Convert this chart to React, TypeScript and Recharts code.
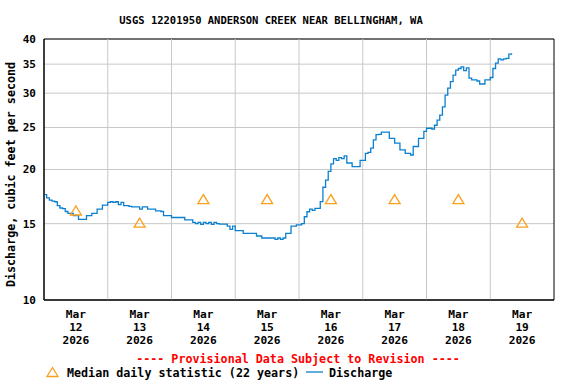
import {
  CartesianGrid,
  ComposedChart,
  Line,
  ReferenceArea,
  ReferenceLine,
  Scatter,
  XAxis,
  YAxis,
} from "recharts";

// hourly discharge (cfs), starting Mar 12 00:00
const mar12 = [17.5, 17.2, 17.0, 16.9, 16.85, 16.5, 16.3, 16.25, 16.0, 15.85, 15.85, 15.65, 15.65, 15.35, 15.35, 15.35, 15.65, 15.65, 15.85, 15.85, 16.2, 16.2, 16.55, 16.55];
const mar13 = [16.8, 16.85, 16.8, 16.85, 16.6, 16.8, 16.5, 16.5, 16.45, 16.4, 16.4, 16.4, 16.2, 16.4, 16.4, 16.2, 16.2, 16.2, 16.05, 16.05, 16.0, 15.65, 15.65, 15.65];
const mar14 = [15.5, 15.5, 15.5, 15.5, 15.5, 15.3, 15.3, 15.3, 15.1, 15.0, 15.1, 14.95, 15.1, 15.0, 15.1, 14.95, 15.1, 15.0, 14.97, 14.97, 14.97, 14.8, 14.55, 14.8];
const mar15 = [14.45, 14.45, 14.45, 14.25, 14.25, 14.25, 14.25, 14.25, 14.05, 14.05, 13.9, 13.9, 13.9, 13.9, 13.9, 13.8, 13.9, 13.8, 13.9, 14.25, 14.25, 14.8, 14.8, 14.9];
const mar16 = [14.9, 15.0, 15.56, 15.98, 16.2, 16.1, 16.27, 16.27, 16.86, 18.2, 18.9, 19.8, 20.6, 21.2, 21.0, 21.3, 21.2, 21.5, 20.7, 20.7, 20.3, 20.3, 20.3, 21.0];
const mar17 = [21.0, 21.8, 21.9, 22.4, 23.4, 24.06, 24.1, 24.4, 24.4, 24.4, 23.6, 23.6, 23.0, 23.0, 22.2, 22.2, 21.8, 21.8, 21.6, 22.6, 22.6, 23.6, 23.6, 24.5];
const mar18 = [24.9, 24.9, 24.8, 25.3, 26.0, 26.7, 27.9, 29.7, 30.8, 31.9, 33.0, 33.9, 34.2, 34.5, 33.8, 34.3, 32.5, 32.2, 32.2, 32.0, 31.5, 31.5, 32.2, 32.2];
const mar19 = [32.6, 34.2, 35.2, 36.0, 35.8, 36.0, 36.1, 36.9, 37.1];

const medianDaily = [16, 15, 17, 17, 17, 17, 17, 15];
const dayLabels = ["12", "13", "14", "15", "16", "17", "18", "19"];
const yTicks = [10, 15, 20, 25, 30, 35, 40];

const discharge = [...mar12, ...mar13, ...mar14, ...mar15, ...mar16, ...mar17, ...mar18, ...mar19];
const flowData = discharge.map((q, i) => ({ hour: i, q }));
const medianData = medianDaily.map((m, i) => ({ hour: 12 + 24 * i, median: m }));
const labelTicks = dayLabels.map((_, i) => 12 + 24 * i);
const dayBounds = [1, 2, 3, 4, 5, 6, 7].map((d) => d * 24);

const FONT = "'DejaVu Sans Mono', monospace";
const BLUE = "#0b80d0";
const ORANGE = "#f9a01b";

function DayTick(props: any) {
  const { x, y, payload } = props;
  const label = dayLabels[labelTicks.indexOf(payload.value)];
  return (
    <text textAnchor="middle" fontFamily={FONT} fontWeight="bold" fontSize={11.2} fill="#000">
      <tspan x={x} y={y + 18}>Mar</tspan>
      <tspan x={x} y={y + 31}>{label}</tspan>
      <tspan x={x} y={y + 44}>2026</tspan>
    </text>
  );
}

function Triangle(props: any) {
  const { cx, cy } = props;
  return (
    <polygon
      points={`${cx},${cy - 5.5} ${cx - 5.5},${cy + 3.5} ${cx + 5.5},${cy + 3.5}`}
      fill="none"
      stroke={ORANGE}
      strokeWidth={1.3}
    />
  );
}

export default function App() {
  return (
    <div style={{ position: "absolute", left: 0, top: 0, width: 576, height: 384, background: "#fff" }}>
      <ComposedChart width={576} height={384} data={flowData} margin={{ top: 39, right: 22, bottom: 0, left: 0 }}>
        <CartesianGrid vertical={false} stroke="#c8c8c8" />
        {dayBounds.map((b) => (
          <ReferenceLine key={b} x={b} stroke="#c8c8c8" />
        ))}
        <XAxis
          type="number"
          dataKey="hour"
          domain={[0, 192]}
          ticks={labelTicks}
          interval={0}
          tick={<DayTick />}
          tickLine={false}
          tickSize={0}
          tickMargin={0}
          axisLine={{ stroke: "#000" }}
          height={84}
        />
        <YAxis
          scale="log"
          domain={[10, 40]}
          allowDataOverflow
          ticks={yTicks}
          interval={0}
          tickLine={false}
          tickSize={0}
          tickMargin={8}
          axisLine={{ stroke: "#000" }}
          width={44}
          tick={{ fontFamily: FONT, fontWeight: "bold", fontSize: 11, fill: "#000" }}
        />
        <ReferenceArea x1={0} x2={192} y1={10} y2={40} fill="none" stroke="#000" ifOverflow="visible" />
        <Line
          type="stepAfter"
          dataKey="q"
          stroke={BLUE}
          strokeWidth={1.3}
          dot={false}
          activeDot={false}
          isAnimationActive={false}
        />
        <Scatter data={medianData} dataKey="median" shape={<Triangle />} isAnimationActive={false} />
      </ComposedChart>
      <svg
        width={576}
        height={384}
        style={{ position: "absolute", left: 0, top: 0, pointerEvents: "none" }}
        fontFamily={FONT}
        fontWeight="bold"
      >
        <text x={271} y={24} textAnchor="middle" fontSize={10.5} fill="#000">
          USGS 12201950 ANDERSON CREEK NEAR BELLINGHAM, WA
        </text>
        <text transform="translate(15,174.5) rotate(-90)" textAnchor="middle" fontSize={11.7} fill="#000">
          Discharge, cubic feet per second
        </text>
        <text x={298} y={363} textAnchor="middle" fontSize={11.7} fill="#ff0000">
          ---- Provisional Data Subject to Revision ----
        </text>
        <polygon points="52.5,367.5 47,376.5 58,376.5" fill="none" stroke={ORANGE} strokeWidth={1.3} />
        <text x={67} y={377} fontSize={11.7} fill="#000">
          Median daily statistic (22 years)
        </text>
        <line x1={306} x2={323} y1={372} y2={372} stroke={BLUE} strokeWidth={1.3} />
        <text x={329} y={377} fontSize={11.7} fill="#000">
          Discharge
        </text>
      </svg>
    </div>
  );
}
